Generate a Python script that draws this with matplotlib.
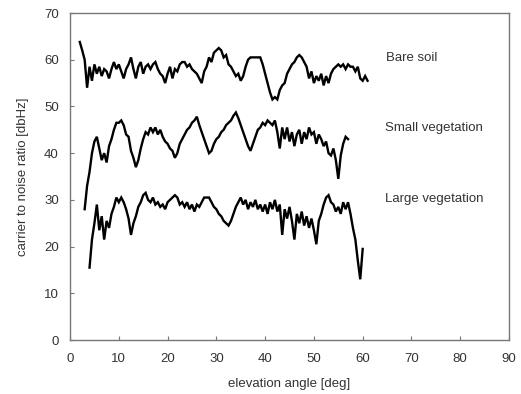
import numpy as np
import matplotlib
matplotlib.use("Agg")
import matplotlib.pyplot as plt

# elevation angles (deg)
bare_x = np.arange(2.0, 61.01, 0.5)
bare_y = [63.8, 62.0, 60.0, 54.0, 58.5, 55.5, 59.0, 57.0, 58.5, 56.5,
          58.0, 57.5, 56.0, 58.0, 59.5, 58.0, 59.0, 57.5, 56.0, 58.0,
          59.0, 60.5, 58.0, 56.0, 58.5, 59.5, 57.0, 58.5, 59.0, 58.0,
          59.0, 59.5, 58.0, 57.0, 56.5, 55.0, 57.0, 58.5, 56.0, 58.0,
          57.5, 59.0, 59.5, 59.5, 58.5, 59.0, 58.0, 57.5, 57.0, 56.0,
          55.0, 57.5, 58.5, 60.5, 59.5, 61.5, 62.0, 62.5, 62.0, 60.5,
          61.0, 59.0, 58.5, 57.5, 56.5, 57.0, 55.5, 56.5, 58.5, 60.0,
          60.5, 60.5, 60.5, 60.5, 60.5, 59.0, 57.0, 55.0, 53.0, 51.5,
          52.0, 51.5, 53.5, 54.5, 55.0, 57.0, 58.0, 59.0, 59.5, 60.5,
          61.0, 60.5, 59.5, 58.5, 56.0, 57.5, 55.0, 56.5, 55.5, 57.0,
          54.5, 56.5, 55.0, 57.0, 58.0, 58.5, 59.0, 58.5, 59.0, 58.0,
          59.0, 58.5, 58.5, 57.5, 58.5, 56.0, 55.5, 56.5, 55.5]

small_x = np.arange(3.0, 57.01, 0.5)
small_y = [28.0, 33.0, 36.0, 40.0, 42.5, 43.5, 41.0, 38.5, 40.0, 38.0,
           41.5, 43.0, 45.0, 46.5, 46.5, 47.0, 46.0, 44.0, 43.5, 40.5,
           39.0, 37.0, 38.5, 41.0, 43.0, 44.5, 44.0, 45.5, 44.5, 45.5,
           44.0, 45.0, 43.5, 42.5, 42.0, 41.0, 40.5, 39.0, 40.0, 42.0,
           43.0, 44.0, 45.0, 45.5, 46.5, 47.0, 47.8, 46.0, 44.5, 43.0,
           41.5, 40.0, 40.5, 42.0, 43.0, 43.5, 44.5, 45.0, 46.0, 46.5,
           47.0, 48.0, 48.7, 47.5, 46.0, 44.5, 43.0, 41.5, 40.5, 42.0,
           43.5, 45.0, 45.5, 46.5, 46.0, 47.0, 46.5, 46.0, 47.0, 44.5,
           41.0, 45.5, 43.0, 45.5, 42.5, 44.5, 41.5, 44.0, 45.0, 42.0,
           44.5, 43.0, 45.5, 44.0, 44.5, 42.0, 44.0, 43.0, 41.5, 42.5,
           40.0, 39.5, 41.0, 38.5, 34.5, 39.5, 42.0, 43.5, 43.0]

large_x = np.arange(4.0, 60.01, 0.5)
large_y = [15.5, 21.5, 25.0, 29.0, 23.5, 26.5, 21.5, 25.5, 24.0, 27.0,
           28.5, 30.5, 29.5, 30.5, 29.5, 28.0, 26.0, 22.5, 25.0, 26.5,
           28.5, 29.5, 31.0, 31.5, 30.0, 29.5, 30.5, 29.0, 29.5, 28.5,
           29.0, 28.0, 29.5, 30.0, 30.5, 31.0, 30.5, 29.0, 29.5, 28.5,
           29.5, 28.0, 29.0, 27.5, 29.0, 28.5, 29.5, 30.5, 30.5, 30.5,
           29.5, 28.5, 28.0, 27.0, 26.5, 25.5, 25.0, 24.5, 25.5, 27.0,
           28.5, 29.5, 30.5, 29.0, 30.0, 28.0, 29.5, 28.5, 30.0, 28.0,
           29.0, 27.5, 29.0, 27.0, 29.5, 28.0, 30.0, 27.5, 29.0, 22.5,
           28.0, 26.0, 28.5, 25.5, 21.5, 27.0, 25.0, 27.5, 24.5, 26.5,
           24.0, 26.0, 23.5, 20.5, 25.5, 27.0, 29.0, 30.5, 31.0, 29.5,
           29.0, 27.5, 28.5, 27.0, 29.5, 28.0, 29.5, 27.0, 24.0, 21.5,
           17.0, 13.0, 19.5]

labels = ["Bare soil", "Small vegetation", "Large vegetation"]
label_pos = [(64.8, 60.4), (64.6, 45.4), (64.6, 30.2)]
xticks = list(range(0, 91, 10))
yticks = list(range(0, 71, 10))

plt.rcParams['font.family'] = ['Liberation Sans', 'DejaVu Sans']
fig = plt.figure(figsize=(5.21, 3.94), dpi=100)
ax = fig.add_axes([0.1344, 0.137, 0.8426, 0.830])

for xs, ys in [(bare_x, bare_y), (small_x, small_y), (large_x, large_y)]:
    ax.plot(xs, ys, color='black', lw=1.7, solid_joinstyle='miter')

for lab, (lx, ly) in zip(labels, label_pos):
    ax.text(lx, ly, lab, fontsize=9.5, color='#333333', va='center', ha='left')

ax.set_xlim(0, 90)
ax.set_ylim(0, 70)
ax.set_xticks(xticks)
ax.set_yticks(yticks)
ax.tick_params(direction='in', length=3, color='#777777', labelsize=9.5,
               labelcolor='#333333', top=False, right=False)
ax.tick_params(axis='x', pad=9)
ax.tick_params(axis='y', pad=8)
for s in ax.spines.values():
    s.set_color('#777777')
    s.set_linewidth(1.0)
ax.set_xlabel('elevation angle [deg]', fontsize=9.5, color='#333333', labelpad=10)
ax.set_ylabel('carrier to noise ratio [dbHz]', fontsize=9.5, color='#333333', labelpad=11)

fig.savefig('out.png', dpi=100)
